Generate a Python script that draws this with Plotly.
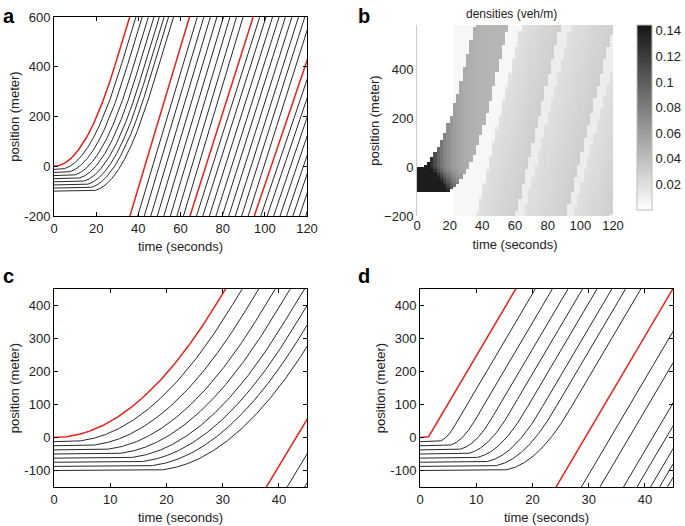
import numpy as np
import plotly.graph_objects as go

W, H = 685, 526
FONT = "Liberation Sans, Arial, Helvetica, sans-serif"

# --- values ------------------------------------------------------------
V_MAX = 27.8            # m/s, free speed reached by the released queue (a, c)
ACCEL = 0.97            # m/s^2, start-up acceleration of the queue (a, c)

# standing queue at t = 0 (a, c, d): positions in metres
queue_pos = [0, -12.5, -25, -37.5, -50, -62.5, -75, -87.5, -100]
# time each queued vehicle starts to move (a, c)
queue_dep_ac = [0, 2.5, 5.0, 7.5, 9.7, 11.8, 13.6, 15.3, 17.2]

# later platoons of panel a: time each vehicle passes -200 m (first one red)
platoons_a = [
    [36.0, 39.7, 42.8, 45.9, 49.0, 52.1, 55.2, 58.3, 61.4],
    [64.5, 67.6, 70.6, 73.7, 76.8, 79.8, 82.9, 86.0, 89.0, 92.1],
    [95.0, 98.1, 101.1, 104.2, 107.2, 110.3, 113.3, 116.4, 119.4],
]
platoon_speed_a = [28.3, 26.7, 25.0]

# panel d: departure time and time needed to reach full speed
V_MAX_D = 28.9
queue_dep_d = [1.4, 3.0, 4.6, 6.2, 7.6, 9.0, 10.7, 12.2, 14.0]
ramp_d = [0.1, 3.0, 5.0, 6.5, 8.0, 9.5, 10.5, 11.5, 12.5]
# second platoon of panel d: time each vehicle passes -150 m
platoon_d = [24.2, 28.7, 32.0, 36.2, 38.6, 41.0, 42.6, 44.0]

# panel b: density field (veh/m)
rho_jam = 0.14
rho_platoon = 0.045
rho_band_front = 0.019
rho_band_rear = 0.030
rho_gap = 0.011
rho_free = 0.005
black_end_pos = [-100, -50, 0]
black_end_t = [19.0, 14.0, 8.0]
fade_tau = 8.0
t_floor = 22.0

# tick labels
ticks_a_x = [0, 20, 40, 60, 80, 100, 120]
ticks_a_y = [-200, 0, 200, 400, 600]
ticks_b_y = [-200, 0, 200, 400]
ticks_cd_x = [0, 10, 20, 30, 40]
ticks_cd_y = [-100, 0, 100, 200, 300, 400]
cbar_vals = [0.02, 0.04, 0.06, 0.08, 0.1, 0.12, 0.14]
cbar_text = ["0.02", "0.04", "0.06", "0.08", "0.1", "0.12", "0.14"]


def queue_traj(t, p0, dep, accel, vmax):
    tau = np.clip(t - dep, 0, None)
    t_acc = vmax / accel
    x = np.where(tau < t_acc, 0.5 * accel * tau ** 2,
                 0.5 * vmax * t_acc + vmax * (tau - t_acc))
    return p0 + x


def free_line(t_ref, x_ref, v):
    xs = np.array([-700.0, 1100.0])
    return t_ref + (xs - x_ref) / v, xs


def dom(x0, x1, y0, y1):
    return [x0 / W, x1 / W], [1 - y1 / H, 1 - y0 / H]


def hyphen(vals):
    return [str(v).replace("\u2212", "-") for v in vals]


fig = go.Figure()

t_full = np.linspace(0, 120, 2401)


def add_line(t, x, ax, red=False):
    fig.add_trace(go.Scatter(
        x=t, y=x, mode="lines", xaxis="x" + ax, yaxis="y" + ax,
        line=dict(color="#e8201a" if red else "#111111", width=1.5 if red else 0.9),
        hoverinfo="skip", showlegend=False))


# panels a and c share the same scenario
for ax in ["", "3"]:
    for i, (p0, dep) in enumerate(zip(queue_pos, queue_dep_ac)):
        add_line(t_full, queue_traj(t_full, p0, dep, ACCEL, V_MAX), ax, red=(i == 0))
    for group, v in zip(platoons_a, platoon_speed_a):
        for j, t0 in enumerate(group):
            t, x = free_line(t0, -200, v)
            add_line(t, x, ax, red=(j == 0))

# panel d
t_d = np.linspace(0, 45, 1801)
for i, (p0, dep, ramp) in enumerate(zip(queue_pos, queue_dep_d, ramp_d)):
    add_line(t_d, queue_traj(t_d, p0, dep, V_MAX_D / ramp, V_MAX_D), "4", red=(i == 0))
for j, t0 in enumerate(platoon_d):
    t, x = free_line(t0, -150, V_MAX_D)
    add_line(t, x, "4", red=(j == 0))

# panel b density map
tc = np.arange(1, 120, 2.0)
xc = np.arange(-195, 580, 10.0)
T, X = np.meshgrid(tc, xc)
lead = queue_traj(T, queue_pos[0], queue_dep_ac[0], ACCEL, V_MAX)
tail = queue_traj(T, queue_pos[-1], queue_dep_ac[-1], ACCEL, V_MAX)
in_platoon = (X <= lead) & (X >= tail)
bend = np.interp(np.clip(X, -100, 0), black_end_pos, black_end_t)
fade = np.exp(-np.clip(T - bend, 0, None) / fade_tau)
rho = np.where(T >= t_floor, rho_free, 0.0)
for group, v in zip(platoons_a, platoon_speed_a):
    s = T - (X + 200) / v          # time this cell's wave passed -200 m
    after = (s >= group[0]) & (X < tail)
    rho = np.where(after, rho_gap, rho)
    b0, b1 = group[0] + 0.5, group[-1] - 1.0
    frac = np.clip((s - b0) / (b1 - b0), 0, 1)
    band = rho_band_front + (rho_band_rear - rho_band_front) * frac
    rho = np.where(after & (s >= b0) & (s <= b1), band, rho)
rho = np.where(in_platoon, rho_platoon + (rho_jam - rho_platoon) * fade, rho)

fig.add_trace(go.Heatmap(
    x=tc, y=xc, z=rho, xaxis="x2", yaxis="y2", zmin=0, zmax=0.1445,
    colorscale=[[0, "#ffffff"], [1, "#151515"]], hoverinfo="skip",
    colorbar=dict(x=637 / W, xanchor="left", xpad=0, ypad=0,
                  y=1 - 210 / H, yanchor="bottom",
                  len=185 / H, lenmode="fraction", thickness=15,
                  outlinecolor="#bbbbbb", outlinewidth=1,
                  tickvals=cbar_vals, ticktext=cbar_text, ticks="",
                  ticklabeloverflow="allow",
                  tickfont=dict(size=13, color="#222"))))

frame = dict(showline=True, linecolor="black", linewidth=1, mirror="ticks",
             ticks="inside", ticklen=4, tickcolor="black", showgrid=False,
             zeroline=False, tickfont=dict(size=13, color="#222"))

xa, ya = dom(54, 307, 17, 216)
xb, yb = dom(417, 613, 25, 216)
xc_, yc_ = dom(54, 307, 289, 487)
xd, yd = dom(420, 673, 289, 487)


def xtitle(s):
    return dict(text=s, font=dict(size=13, color="#222"), standoff=7)


def ytitle(s):
    return dict(text=s, font=dict(size=13, color="#222"), standoff=1)


fig.update_layout(
    width=W, height=H, margin=dict(l=0, r=0, t=0, b=0, autoexpand=False),
    paper_bgcolor="white", plot_bgcolor="white",
    font=dict(family=FONT, color="#222"),
    xaxis=dict(domain=xa, range=[0, 120], tickvals=ticks_a_x,
               title=xtitle("time (seconds)"), anchor="y", **frame),
    yaxis=dict(domain=ya, range=[-200, 600], tickvals=ticks_a_y,
               ticktext=hyphen(ticks_a_y),
               title=ytitle("position (meter)"), anchor="x", **frame),
    xaxis2=dict(domain=xb, range=[0, 120], tickvals=ticks_a_x,
                title=xtitle("time (seconds)"), anchor="y2", showline=False,
                ticks="", showgrid=False, zeroline=False,
                tickfont=dict(size=13, color="#222")),
    yaxis2=dict(domain=yb, range=[-200, 580], tickvals=ticks_b_y,
                title=ytitle("position (meter)"), anchor="x2", showline=True,
                linecolor="#cccccc", ticks="", showgrid=False, zeroline=False,
                tickfont=dict(size=13, color="#222")),
    xaxis3=dict(domain=xc_, range=[0, 45], tickvals=ticks_cd_x,
                title=xtitle("time (seconds)"), anchor="y3", **frame),
    yaxis3=dict(domain=yc_, range=[-150, 450], tickvals=ticks_cd_y,
                ticktext=hyphen(ticks_cd_y),
                title=ytitle("position (meter)"), anchor="x3", **frame),
    xaxis4=dict(domain=xd, range=[0, 45], tickvals=ticks_cd_x,
                title=xtitle("time (seconds)"), anchor="y4", **frame),
    yaxis4=dict(domain=yd, range=[-150, 450], tickvals=ticks_cd_y,
                ticktext=hyphen(ticks_cd_y),
                title=ytitle("position (meter)"), anchor="x4", **frame),
)

letters = [("a", 1, 3), ("b", 356, 3), ("c", 1, 263), ("d", 356, 263)]
for txt, px, py in letters:
    fig.add_annotation(text="<b>%s</b>" % txt, x=px / W, y=1 - py / H,
                       xref="paper", yref="paper", xanchor="left", yanchor="top",
                       showarrow=False, font=dict(size=20, color="black"))
fig.add_annotation(text="densities (veh/m)", x=512 / W, y=1 - 5 / H,
                   xref="paper", yref="paper", xanchor="center", yanchor="top",
                   showarrow=False, font=dict(size=12, color="#222"))

# the page body has a default 8px margin; remove it so the figure sits at 0,0
fig.write_html("out.html", config={"displayModeBar": False},
               post_script="document.body.style.margin='0px';")
